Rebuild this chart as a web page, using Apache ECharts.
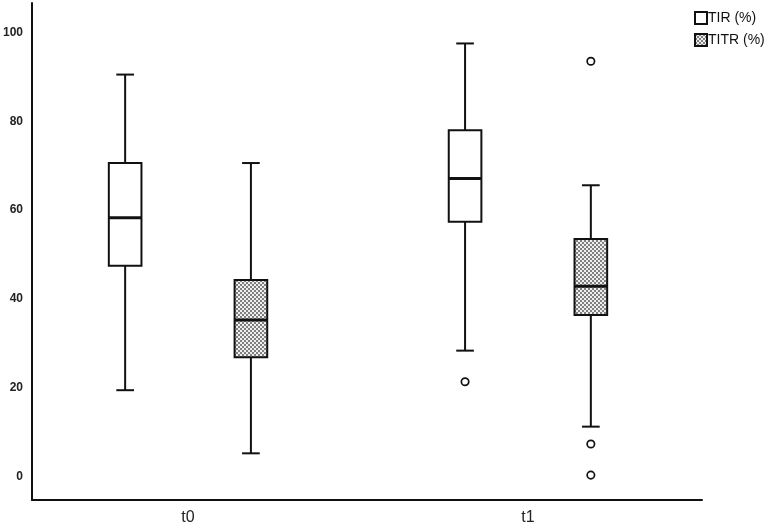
<!DOCTYPE html>
<html>
<head>
<meta charset="utf-8">
<script src="https://cdn.jsdelivr.net/npm/echarts@6/dist/echarts.min.js"></script>
<style>
  html, body { margin: 0; padding: 0; background: #fff; }
  #chart { width: 767px; height: 529px; }
</style>
</head>
<body>
<div id="chart"></div>
<script>
// categories and tick labels
const categories = ['t0', 't1'];
const yTicks = [0, 20, 40, 60, 80, 100];
const seriesNames = ['TIR (%)', 'TITR (%)'];

// box stats per category: [low whisker, Q1, median, Q3, high whisker]
const tirStats = [
    [19.5, 47.5, 58.3, 70.6, 90.5],
    [28.4, 57.4, 67.1, 78.0, 97.5]
];
const titrStats = [
    [5.3, 26.9, 35.3, 44.3, 70.6],
    [11.3, 36.4, 42.9, 53.5, 65.6]
];

// outliers per category
const tirOutliers = [[], [21.4]];
const titrOutliers = [[], [93.5, 7.4, 0.4]];

// checkered fill for the TITR boxes
function makePattern() {
    const c = document.createElement('canvas');
    c.width = 4; c.height = 4;
    const ctx = c.getContext('2d');
    ctx.fillStyle = '#eeeeee';
    ctx.fillRect(0, 0, 4, 4);
    ctx.fillStyle = '#808080';
    ctx.fillRect(0, 0, 2, 2);
    ctx.fillRect(2, 2, 2, 2);
    return { image: c, repeat: 'repeat' };
}
const checker = makePattern();

const boxOffset = [-0.185, 0.185]; // shift of each series inside a category
const boxHalf = 0.048;
const capHalf = 0.026;

function makeRenderItem(seriesIdx, fill, outliers) {
    return function (params, api) {
        const x = api.value(0) + boxOffset[seriesIdx];
        const low = api.coord([x, api.value(1)]);
        const q1 = api.coord([x, api.value(2)]);
        const med = api.coord([x, api.value(3)]);
        const q3 = api.coord([x, api.value(4)]);
        const high = api.coord([x, api.value(5)]);
        const hw = api.size([boxHalf, 0])[0];
        const cw = api.size([capHalf, 0])[0];
        const line = { stroke: '#111', lineWidth: 2 };
        const children = [
            { type: 'line', shape: { x1: high[0], y1: high[1], x2: q3[0], y2: q3[1] }, style: line },
            { type: 'line', shape: { x1: low[0], y1: low[1], x2: q1[0], y2: q1[1] }, style: line },
            { type: 'line', shape: { x1: high[0] - cw, y1: high[1], x2: high[0] + cw, y2: high[1] }, style: line },
            { type: 'line', shape: { x1: low[0] - cw, y1: low[1], x2: low[0] + cw, y2: low[1] }, style: line },
            { type: 'rect', shape: { x: q3[0] - hw, y: q3[1], width: hw * 2, height: q1[1] - q3[1] },
              style: { fill: fill, stroke: '#111', lineWidth: 2 } },
            { type: 'line', shape: { x1: med[0] - hw, y1: med[1], x2: med[0] + hw, y2: med[1] },
              style: { stroke: '#111', lineWidth: 3 } }
        ];
        (outliers[params.dataIndex] || []).forEach(v => {
            const p = api.coord([x, v]);
            children.push({ type: 'circle', shape: { cx: p[0], cy: p[1], r: 3.7 },
                style: { fill: '#fff', stroke: '#111', lineWidth: 1.7 } });
        });
        return { type: 'group', children: children };
    };
}

function toData(stats) {
    return stats.map((s, i) => [i].concat(s));
}

const chart = echarts.init(document.getElementById('chart'));
chart.setOption({
    animation: false,
    backgroundColor: '#fff',
    grid: { left: 32, right: 65, top: 3, bottom: 29, containLabel: false, outerBoundsMode: 'none' },
    legend: {
        orient: 'vertical',
        left: 689,
        top: 6,
        itemWidth: 12,
        itemHeight: 12,
        itemGap: 8,
        icon: 'rect',
        textStyle: { fontFamily: 'Liberation Sans, Arial', fontSize: 14, color: '#111', padding: [0, 0, 0, -4] },
        data: seriesNames
    },
    xAxis: {
        type: 'value',
        min: -0.459,
        max: 1.512,
        splitLine: { show: false },
        axisTick: { show: false },
        axisLine: { show: true, onZero: false, lineStyle: { color: '#111', width: 2 } },
        axisLabel: {
            customValues: [0, 1],
            formatter: v => categories[Math.round(v)],
            fontFamily: 'Liberation Sans, Arial',
            fontSize: 16,
            color: '#222',
            margin: 10
        }
    },
    yAxis: {
        type: 'value',
        min: -5.2,
        max: 106.6,
        splitLine: { show: false },
        axisTick: { show: false },
        axisLine: { show: true, onZero: false, lineStyle: { color: '#111', width: 2 } },
        axisLabel: {
            customValues: yTicks,
            fontFamily: 'Liberation Sans, Arial',
            fontWeight: 'bold',
            fontSize: 12,
            color: '#222',
            margin: 9
        }
    },
    series: [
        {
            name: seriesNames[0],
            type: 'custom',
            renderItem: makeRenderItem(0, '#fff', tirOutliers),
            itemStyle: { color: '#fff', borderColor: '#111', borderWidth: 1.5 },
            encode: { x: 0, y: [1, 2, 3, 4, 5] },
            data: toData(tirStats)
        },
        {
            name: seriesNames[1],
            type: 'custom',
            renderItem: makeRenderItem(1, checker, titrOutliers),
            itemStyle: { color: checker, borderColor: '#111', borderWidth: 1.5 },
            encode: { x: 0, y: [1, 2, 3, 4, 5] },
            data: toData(titrStats)
        }
    ]
});
</script>
</body>
</html>
